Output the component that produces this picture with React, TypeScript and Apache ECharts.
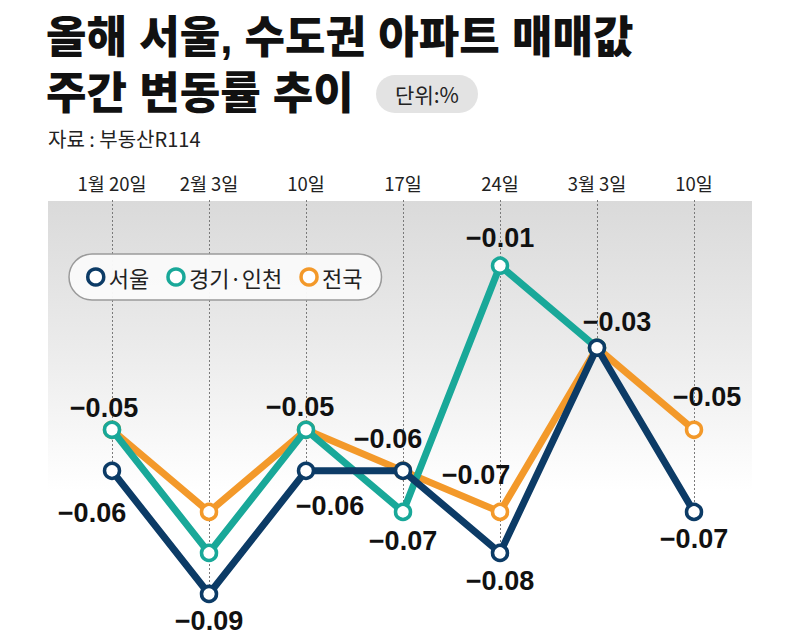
import React, { useEffect, useRef } from "react";
import * as echarts from "echarts";

const categories = ["1월 20일", "2월 3일", "10일", "17일", "24일", "3월 3일", "10일"];
const seoulValues = [-0.06, -0.09, -0.06, -0.06, -0.08, -0.03, -0.07];
const gyeonggiValues = [-0.05, -0.08, -0.05, -0.07, -0.01, -0.03, null];
const nationalValues = [-0.05, -0.07, -0.05, -0.06, -0.07, -0.03, -0.05];

const seriesNames = ["서울", "경기·인천", "전국"];

// label placement (offset from point centre), null = no label
const seoulLabelOffsets: (number[] | null)[] = [[-20, 42], [0, 27], [24, 35], null, [0, 28], [20, -26], [0, 27]];
const gyeonggiLabelOffsets: (number[] | null)[] = [[-8, -22], null, [-6, -23], [0, 29], [0, -28], null, null];
const nationalLabelOffsets: (number[] | null)[] = [null, null, null, [-15, -32], [-24, -37], null, [13, -33]];

const COLORS = { seoul: "#0c3b66", gyeonggi: "#19a899", national: "#f3992a" };
const CJK = '"Noto Sans CJK KR", "Noto Sans", sans-serif';
const TITLE_FONT = '"Liberation Sans", "Noto Sans CJK KR", sans-serif';
const NUM = '"Liberation Sans", Arial, sans-serif';
const Y_MIN = -0.1;
const Y_MAX = 0.006;

function fmt(v: number) {
  return v.toFixed(2).replace("-", "\u2212");
}

function buildData(values: (number | null)[], offsets: (number[] | null)[]) {
  return values.map((v, i) => {
    const off = offsets[i];
    return {
      value: v,
      label: off
        ? { show: true, position: "inside", offset: off }
        : { show: false },
    };
  });
}

function lineSeries(name: string, color: string, values: (number | null)[], offsets: (number[] | null)[], z: number) {
  return {
    name,
    type: "line",
    z,
    data: buildData(values, offsets),
    symbol: "circle",
    symbolSize: 15,
    connectNulls: false,
    lineStyle: { color, width: 7 },
    itemStyle: { color: "#ffffff", borderColor: color, borderWidth: 3.5 },
    label: {
      color: "#111",
      fontSize: 27,
      fontWeight: "bold",
      fontFamily: NUM,
      formatter: (p: any) => fmt(p.value as number),
    },
    emphasis: { disabled: true },
  };
}

export default function App() {
  const ref = useRef<HTMLDivElement>(null);

  useEffect(() => {
    if (!ref.current) return;
    const chart = echarts.init(ref.current, undefined, { renderer: "svg" });

    const minPerCat = categories.map((_, i) => {
      const vals = [seoulValues[i], gyeonggiValues[i], nationalValues[i]].filter(
        (v) => v !== null
      ) as number[];
      return Math.min(...vals);
    });

    const option: any = {
      animation: false,
      backgroundColor: "#ffffff",
      grid: { left: 63.5, right: 57.5, top: 200, bottom: 8 },
      xAxis: {
        type: "category",
        position: "top",
        data: categories,
        boundaryGap: true,
        axisLine: { show: false },
        axisTick: { show: false },
        splitLine: { show: false },
        axisLabel: {
          color: "#222",
          fontSize: 18.5,
          fontFamily: CJK,
          margin: 8,
        },
      },
      yAxis: {
        type: "value",
        min: Y_MIN,
        max: Y_MAX,
        show: false,
        splitLine: { show: false },
      },
      legend: {
        data: seriesNames,
        left: 69,
        top: 254,
        orient: "horizontal",
        icon: "circle",
        itemWidth: 16,
        itemHeight: 16,
        itemGap: 17,
        padding: [12, 19, 12, 17],
        backgroundColor: "rgba(250,250,250,0.97)",
        borderColor: "#9a9a9a",
        borderWidth: 1.5,
        borderRadius: 23,
        selectedMode: false,
        itemStyle: { color: "#ffffff", borderColor: "inherit", borderWidth: 3.5 },
        textStyle: { fontSize: 22, color: "#222", fontFamily: CJK },
      },
      graphic: [
        {
          type: "rect",
          z: -10,
          shape: { x: 48, y: 201, width: 704, height: 290 },
          style: {
            fill: new echarts.graphic.LinearGradient(0, 0, 0, 1, [
              { offset: 0, color: "#dadada" },
              { offset: 0.5, color: "#ebebeb" },
              { offset: 1, color: "#ffffff" },
            ]),
          },
        },
        {
          type: "text",
          x: 46,
          y: 37,
          style: {
            text: "올해 서울, 수도권 아파트 매매값",
            fontSize: 44,
            fontWeight: 900,
            fontFamily: TITLE_FONT,
            fill: "#111",
            verticalAlign: "middle",
          },
        },
        {
          type: "text",
          x: 46,
          y: 93,
          style: {
            text: "주간 변동률 추이",
            fontSize: 44,
            fontWeight: 900,
            fontFamily: TITLE_FONT,
            fill: "#111",
            verticalAlign: "middle",
          },
        },
        {
          type: "rect",
          shape: { x: 376, y: 75, width: 102, height: 38, r: 19 },
          style: { fill: "#e3e3e3" },
        },
        {
          type: "text",
          x: 427,
          y: 94,
          style: {
            text: "단위:%",
            fontSize: 21,
            fontFamily: CJK,
            fill: "#222",
            align: "center",
            verticalAlign: "middle",
          },
        },
        {
          type: "text",
          x: 48,
          y: 138,
          style: {
            text: "자료 : 부동산R114",
            fontSize: 20,
            fontFamily: CJK,
            fill: "#222",
            verticalAlign: "middle",
          },
        },
      ],
      series: [
        {
          name: "_guides",
          type: "line",
          z: 1,
          data: [],
          markLine: {
            silent: true,
            z: 1,
            symbol: "none",
            label: { show: false },
            lineStyle: { color: "#7a7a7a", type: [2, 2], width: 1 },
            data: minPerCat.map((m, i) => [
              { coord: [i, Y_MAX] },
              { coord: [i, m] },
            ]),
          },
        },
        lineSeries(seriesNames[2], COLORS.national, nationalValues, nationalLabelOffsets, 2),
        lineSeries(seriesNames[1], COLORS.gyeonggi, gyeonggiValues, gyeonggiLabelOffsets, 3),
        lineSeries(seriesNames[0], COLORS.seoul, seoulValues, seoulLabelOffsets, 4),
      ],
    };

    chart.setOption(option);
    return () => chart.dispose();
  }, []);

  return (
    <div
      ref={ref}
      style={{ position: "fixed", left: 0, top: 0, width: 800, height: 643 }}
    />
  );
}
